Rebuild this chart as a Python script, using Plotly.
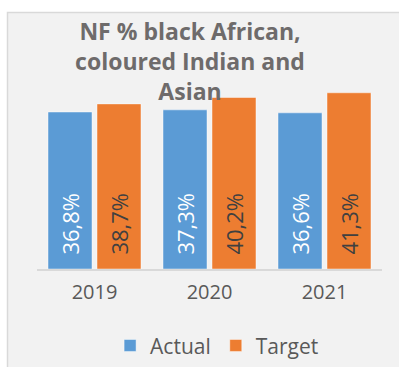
import plotly.graph_objects as go

years = ["2019", "2020", "2021"]
actual = [36.8, 37.3, 36.6]
target = [38.7, 40.2, 41.3]
series_names = ["Actual", "Target"]
title_lines = ["NF % black African,", "coloured Indian and", "Asian"]

def fmt(v):
    return "\u00a0\u00a0" + f"{v:.1f}".replace(".", ",") + "%"

FONT = "Open Sans"
fig = go.Figure()
fig.add_trace(go.Bar(
    x=years, y=actual, name=series_names[0],
    marker=dict(color="#5B9BD5", line=dict(color="rgba(255,255,255,0.45)", width=1)),
    text=[fmt(v) for v in actual], textposition="inside", insidetextanchor="start",
    textangle=-90, textfont=dict(color="white", size=22, family=FONT),
    hoverinfo="skip",
))
fig.add_trace(go.Bar(
    x=years, y=target, name=series_names[1],
    marker=dict(color="#ED7D31", line=dict(color="rgba(255,255,255,0.45)", width=1)),
    text=[fmt(v) for v in target], textposition="inside", insidetextanchor="start",
    textangle=-90, textfont=dict(color="#404040", size=22, family=FONT),
    hoverinfo="skip",
))

fig.update_layout(
    width=399, height=367,
    margin=dict(l=37, r=17, t=77, b=98, autoexpand=False),
    paper_bgcolor="white", plot_bgcolor="rgba(0,0,0,0)",
    barmode="group", bargap=0.148, bargroupgap=0.102,
    font=dict(family=FONT, color="#595959"),
    title=dict(
        text="<br>".join(title_lines),
        x=190 / 399, xanchor="center", xref="container",
        y=1 - 40 / 367, yanchor="top", yref="container",
        font=dict(family=FONT, size=23, color="#6e6b6b", weight="bold"),
    ),
    xaxis=dict(
        showline=True, linecolor="#d9d9d9", linewidth=2,
        ticks="", tickfont=dict(size=20, color="#595959", family=FONT),
        ticklabelstandoff=4, showgrid=False,
    ),
    yaxis=dict(range=[0, 45], visible=False, showgrid=False),
    legend=dict(
        orientation="h", x=0.522, xanchor="center", y=-0.40, yanchor="middle",
        font=dict(size=21, color="#595959", family=FONT),
        itemwidth=30, traceorder="normal", bgcolor="rgba(0,0,0,0)",
    ),
    showlegend=True,
    shapes=[dict(
        type="rect", xref="paper", yref="paper",
        x0=(7.5 - 37) / 345, x1=(410 - 37) / 345,
        y0=(269 - 380) / 192, y1=(269 - 12.5) / 192,
        fillcolor="#f2f2f2", line=dict(color="#d9d9d9", width=1.5), layer="below",
    )],
)

fig.write_html("out.html")
